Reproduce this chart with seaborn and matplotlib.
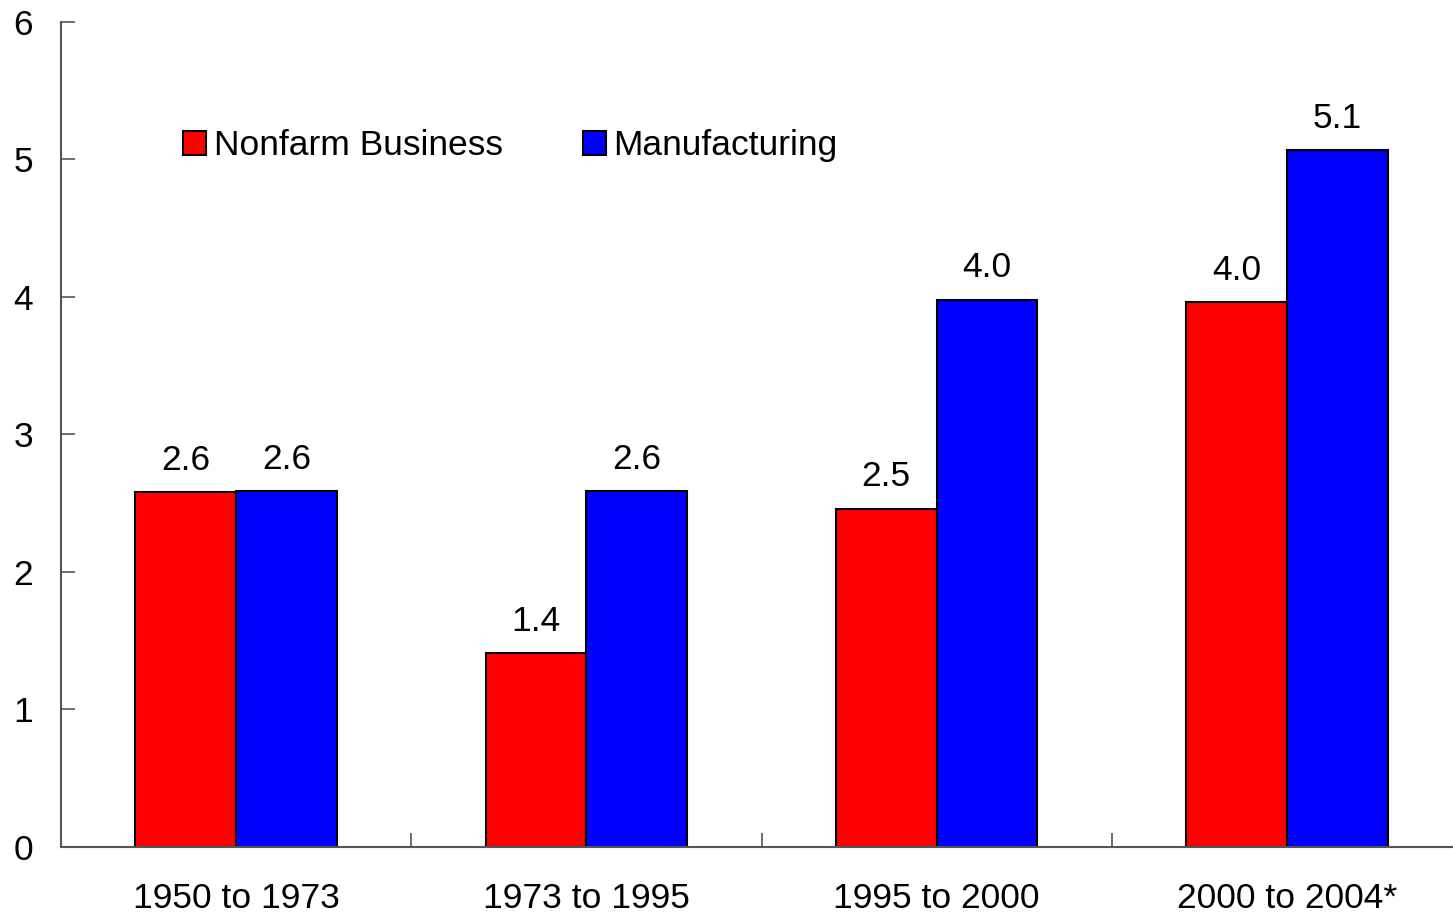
import pandas as pd
import matplotlib
matplotlib.use("Agg")
import matplotlib.pyplot as plt
import seaborn as sns

periods = ["1950 to 1973", "1973 to 1995", "1995 to 2000", "2000 to 2004*"]
nonfarm = [2.58, 1.41, 2.46, 3.96]
manufacturing = [2.59, 2.59, 3.98, 5.07]
series_names = ["Nonfarm Business", "Manufacturing"]
y_ticks = [0, 1, 2, 3, 4, 5, 6]

df = pd.DataFrame({
    "period": periods * 2,
    "value": nonfarm + manufacturing,
    "series": [series_names[0]] * 4 + [series_names[1]] * 4,
})

sns.set_style("white")
plt.rcParams["font.family"] = ["Liberation Sans", "DejaVu Sans"]
plt.rcParams["text.color"] = "black"
plt.rcParams["xtick.labelcolor"] = "black"
plt.rcParams["ytick.labelcolor"] = "black"

fig = plt.figure(figsize=(14.53, 9.14), dpi=100)
ax = fig.add_axes([0.042, 0.0733, 0.9642, 0.9027])

sns.barplot(data=df, x="period", y="value", hue="series",
            palette=["#ff0000", "#0000ff"], width=0.575, gap=0,
            edgecolor="black", linewidth=1.5, saturation=1,
            errorbar=None, ax=ax)

# value labels, rounded to one decimal
for cont in ax.containers:
    ax.bar_label(cont, fmt="%.1f", padding=11, fontsize=25.5, color="black")

ax.set_xlim(-0.5, 3.5)
ax.set_ylim(0, 6)
ax.set_yticks(y_ticks)
ax.set_xlabel("")
ax.set_ylabel("")

ax.tick_params(axis="y", direction="in", length=10, width=1.2, color="#555555",
               labelsize=25.5, pad=20, left=True)
ax.tick_params(axis="x", which="major", length=0, labelsize=25.5, pad=25)
ax.set_xticks([0.5, 1.5, 2.5], minor=True)
ax.tick_params(axis="x", which="minor", direction="in", length=10, width=1.2,
               color="#555555", bottom=True)

for side in ["top", "right"]:
    ax.spines[side].set_visible(False)
for side in ["left", "bottom"]:
    ax.spines[side].set_color("#555555")
    ax.spines[side].set_linewidth(1.5)

leg = ax.legend(loc="upper left", bbox_to_anchor=(0.077, 0.887), ncol=2,
                frameon=False, fontsize=25.5, handlelength=0.65, handleheight=0.7,
                handletextpad=0.22, columnspacing=2.25, borderaxespad=0)

fig.savefig("out.png", dpi=100)
